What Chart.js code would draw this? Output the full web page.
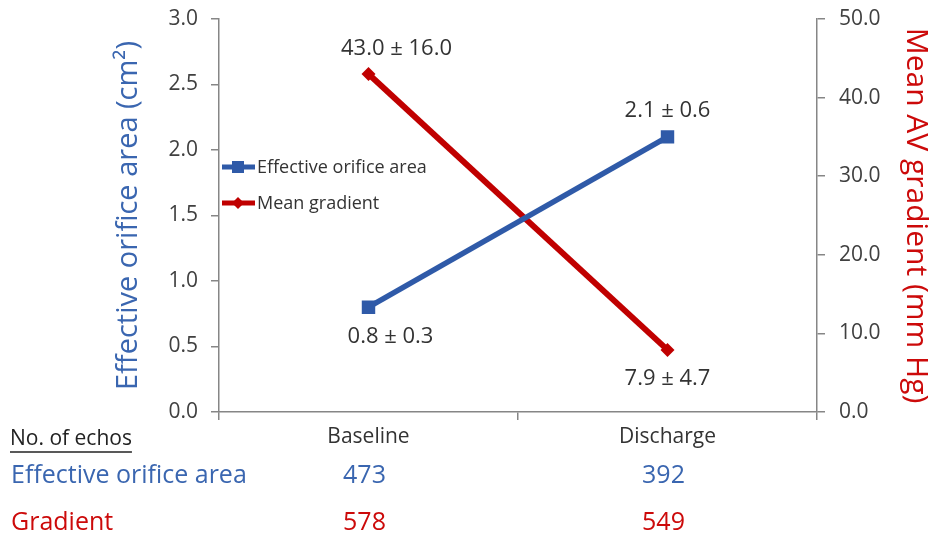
<!DOCTYPE html>
<html>
<head>
<meta charset="utf-8">
<script src="https://cdn.jsdelivr.net/npm/chart.js@4.4.1/dist/chart.umd.min.js"></script>
<style>
  html, body { margin: 0; padding: 0; background: #ffffff; }
  #wrap { width: 934px; height: 538px; position: relative; }
</style>
</head>
<body>
<div id="wrap"><canvas id="c" width="934" height="538"></canvas></div>
<script>
// ---------- data ----------
const categories = ['Baseline', 'Discharge'];
const eoaMean = [0.8, 2.1];
const eoaSD = [0.3, 0.6];
const gradMean = [43.0, 7.9];
const gradSD = [16.0, 4.7];
const eoaEchos = [473, 392];
const gradEchos = [578, 549];
const leftTicks = [0, 0.5, 1.0, 1.5, 2.0, 2.5, 3.0];
const rightTicks = [0, 10, 20, 30, 40, 50];

// ---------- styles ----------
const BLUE = '#2F5AA8';
const BLUE_TXT = '#3A66B0';
const RED = '#C00000';
const RED_TXT = '#CC0A0A';
const AXIS = '#868686';
const TXT = '#404040';
const FONT = "'Open Sans', 'Liberation Sans', sans-serif";

// label offsets (dx, dy) for each dataset/point
const labelOffsets = [
  [[22, 30], [0, -26]],
  [[28, -25], [0, 29]]
];

const dataLabelPlugin = {
  id: 'dataLabels',
  afterDatasetsDraw(chart) {
    const ctx = chart.ctx;
    ctx.save();
    ctx.font = '22px ' + FONT;
    ctx.fillStyle = '#333333';
    ctx.textAlign = 'center';
    ctx.textBaseline = 'middle';
    const texts = [
      eoaMean.map((m, i) => m.toFixed(1) + ' \u00B1 ' + eoaSD[i].toFixed(1)),
      gradMean.map((m, i) => m.toFixed(1) + ' \u00B1 ' + gradSD[i].toFixed(1))
    ];
    chart.data.datasets.forEach((ds, di) => {
      const meta = chart.getDatasetMeta(di);
      meta.data.forEach((pt, i) => {
        const off = labelOffsets[di][i];
        ctx.fillText(texts[di][i], pt.x + off[0], pt.y + off[1]);
      });
    });
    ctx.restore();
  }
};

const legendPlugin = {
  id: 'innerLegend',
  afterDraw(chart) {
    const ctx = chart.ctx;
    const x0 = chart.chartArea.left + 3;
    const items = [
      { text: 'Effective orifice area', color: BLUE, shape: 'rect', y: 167 },
      { text: 'Mean gradient', color: RED, shape: 'diamond', y: 203 }
    ];
    ctx.save();
    items.forEach(it => {
      ctx.strokeStyle = it.color;
      ctx.lineWidth = 5;
      ctx.beginPath();
      ctx.moveTo(x0, it.y);
      ctx.lineTo(x0 + 33, it.y);
      ctx.stroke();
      ctx.fillStyle = it.color;
      const cx = x0 + 16;
      if (it.shape === 'rect') {
        ctx.fillRect(cx - 6, it.y - 6, 12, 12);
      } else {
        ctx.beginPath();
        ctx.moveTo(cx, it.y - 6);
        ctx.lineTo(cx + 6, it.y);
        ctx.lineTo(cx, it.y + 6);
        ctx.lineTo(cx - 6, it.y);
        ctx.closePath();
        ctx.fill();
      }
      ctx.fillStyle = '#333333';
      ctx.font = '18px ' + FONT;
      ctx.textAlign = 'left';
      ctx.textBaseline = 'middle';
      ctx.fillText(it.text, x0 + 35, it.y + 1);
    });
    ctx.restore();
  }
};

const tablePlugin = {
  id: 'echoTable',
  afterDraw(chart) {
    const ctx = chart.ctx;
    const xs = chart.scales.x;
    ctx.save();
    ctx.textBaseline = 'middle';
    // header
    ctx.font = '21px ' + FONT;
    ctx.fillStyle = '#222222';
    ctx.textAlign = 'left';
    const hdr = 'No. of echos';
    ctx.fillText(hdr, 10, 439);
    const w = ctx.measureText(hdr).width;
    ctx.strokeStyle = '#222222';
    ctx.lineWidth = 1.3;
    ctx.beginPath();
    ctx.moveTo(10, 452);
    ctx.lineTo(10 + w, 452);
    ctx.stroke();
    // rows
    ctx.font = '25px ' + FONT;
    ctx.fillStyle = BLUE_TXT;
    ctx.fillText('Effective orifice area', 11, 476);
    ctx.fillStyle = RED_TXT;
    ctx.fillText('Gradient', 11, 523);
    ctx.textAlign = 'center';
    categories.forEach((c, i) => {
      const px = xs.getPixelForValue(i);
      ctx.fillStyle = BLUE_TXT;
      ctx.fillText(String(eoaEchos[i]), px - 4, 476);
      ctx.fillStyle = RED_TXT;
      ctx.fillText(String(gradEchos[i]), px - 4, 523);
    });
    ctx.restore();
  }
};

function noPad(s) { s.paddingTop = 0; s.paddingBottom = 0; s.paddingLeft = 0; s.paddingRight = 0; }

new Chart(document.getElementById('c'), {
  type: 'line',
  data: {
    labels: categories,
    datasets: [
      {
        label: 'Effective orifice area',
        data: eoaMean,
        yAxisID: 'y',
        borderColor: BLUE,
        backgroundColor: BLUE,
        borderWidth: 5.5,
        pointStyle: 'rect',
        pointRadius: 9.5,
        pointBorderWidth: 0,
        pointHoverRadius: 9.5,
        tension: 0
      },
      {
        label: 'Mean gradient',
        data: gradMean,
        yAxisID: 'y1',
        borderColor: RED,
        backgroundColor: RED,
        borderWidth: 6,
        pointStyle: 'rectRot',
        pointRadius: 7,
        pointBorderWidth: 0,
        pointHoverRadius: 7,
        tension: 0
      }
    ]
  },
  options: {
    responsive: false,
    animation: false,
    layout: { padding: { left: 107, right: 0, top: 19, bottom: 0 } },
    plugins: {
      legend: { display: false },
      tooltip: { enabled: false }
    },
    scales: {
      x: {
        type: 'category',
        offset: true,
        grid: { offset: true, drawOnChartArea: false, drawTicks: true, tickLength: 8, color: AXIS, lineWidth: 1.5 },
        border: { color: AXIS, width: 1.5 },
        ticks: { color: '#333333', font: { family: FONT, size: 21 }, padding: 4, maxRotation: 0 },
        afterFit(s) { s.height = 126; noPad(s); }
      },
      y: {
        position: 'left',
        min: 0, max: 3,
        afterBuildTicks(s) { s.ticks = leftTicks.map(v => ({ value: v })); },
        ticks: { color: TXT, font: { family: FONT, size: 21 }, padding: 13, callback: v => Number(v).toFixed(1) },
        grid: { drawOnChartArea: false, drawTicks: true, tickLength: 8, color: AXIS, lineWidth: 1.5 },
        border: { color: AXIS, width: 1.5 },
        title: { display: true, text: 'Effective orifice area (cm\u00B2)', color: BLUE_TXT, font: { family: FONT, size: 29 }, padding: { top: 4, bottom: 4 } },
        afterFit(s) { s.width = 112; noPad(s); }
      },
      y1: {
        position: 'right',
        min: 0, max: 50,
        afterBuildTicks(s) { s.ticks = rightTicks.map(v => ({ value: v })); },
        ticks: { color: TXT, font: { family: FONT, size: 21 }, padding: 14, callback: v => Number(v).toFixed(1) },
        grid: { drawOnChartArea: false, drawTicks: true, tickLength: 8, color: AXIS, lineWidth: 1.5 },
        border: { color: AXIS, width: 1.5 },
        title: { display: true, text: 'Mean AV gradient (mm Hg)', color: RED_TXT, font: { family: FONT, size: 30 }, padding: { top: 0, bottom: 0 } },
        afterFit(s) { s.width = 117; noPad(s); }
      }
    }
  },
  plugins: [dataLabelPlugin, legendPlugin, tablePlugin]
});
</script>
</body>
</html>
